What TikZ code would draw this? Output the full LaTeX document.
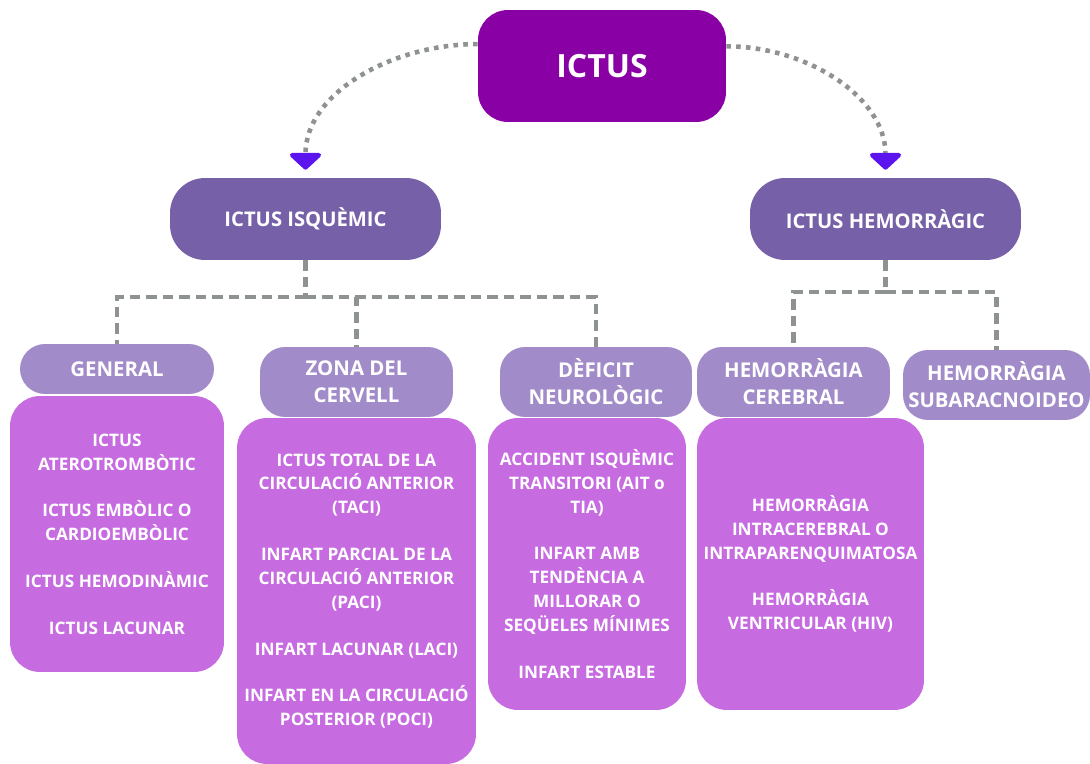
\documentclass[tikz,border=0pt]{standalone}
\usepackage{fontspec}
\setmainfont{Open Sans}
\usetikzlibrary{arrows.meta}
\definecolor{ictuscol}{RGB}{137,0,165}
\definecolor{typecol}{RGB}{118,96,168}
\definecolor{classcol}{RGB}{161,139,201}
\definecolor{listcol}{RGB}{199,107,225}
\definecolor{linecol}{RGB}{142,146,144}
\definecolor{tipcol}{RGB}{91,20,238}
\tikzset{
  box/.style={fill=#1,text=white,align=center,inner sep=2pt,font=\bfseries},
  elbow/.style={to path={-| (\tikztotarget)}}
}
\newcommand{\gap}{\\[13pt]}
\begin{document}
\begin{tikzpicture}[x=0.02cm,y=-0.02cm]
  \useasboundingbox (0,0) rectangle (1090,764);
  % top
  \node[box=ictuscol,rounded corners=0.6cm,minimum width=4.96cm,minimum height=2.24cm,
    font=\fontsize{18.2}{22}\selectfont\bfseries] (ictus) at (602,66) {ICTUS};
  \begin{scope}[every node/.style={box=typecol,rounded corners=0.7cm,minimum width=5.42cm,
      minimum height=1.64cm,font=\fontsize{11.5}{14}\selectfont\bfseries}]
  \node (isq) at (305.5,219) {ICTUS ISQUÈMIC};
  \node (hem) at (885.5,219) {ICTUS HEMORRÀGIC};
  \end{scope}
  \begin{scope}[every node/.style={box=classcol,rounded corners=0.5cm,minimum height=1.4cm,
      font=\fontsize{11.6}{15.3}\selectfont\bfseries}]
  \node[minimum width=3.88cm,minimum height=1cm] (gen) at (117,369) {GENERAL};
  \node[minimum width=3.86cm] (zona) at (356.5,382) {ZONA DEL\\CERVELL};
  \node[minimum width=3.84cm] (def) at (596,382) {DÈFICIT\\NEUROLÒGIC};
  \node[minimum width=3.86cm] (hcer) at (793.5,382) {HEMORRÀGIA\\CEREBRAL};
  \node[minimum width=3.74cm] (hsub) at (996.5,385) {HEMORRÀGIA\\SUBARACNOIDEO};
  \end{scope}
  \begin{scope}[every node/.style={box=listcol,rounded corners=0.6cm,
      font=\fontsize{9.8}{13.6}\selectfont\bfseries}]
  \node[minimum width=4.28cm,minimum height=5.52cm] (gena) at (117,534)
    {ICTUS\\ATEROTROMBÒTIC\gap ICTUS EMBÒLIC O\\CARDIOEMBÒLIC\gap
     ICTUS HEMODINÀMIC\gap ICTUS LACUNAR};
  \node[minimum width=4.78cm,minimum height=6.92cm] (zonaa) at (356.5,591)
    {ICTUS TOTAL DE LA\\CIRCULACIÓ ANTERIOR\\(TACI)\gap INFART PARCIAL DE LA\\
     CIRCULACIÓ ANTERIOR\\(PACI)\gap INFART LACUNAR (LACI)\gap
     INFART EN LA CIRCULACIÓ\\POSTERIOR (POCI)};
  \node[minimum width=3.96cm,minimum height=5.84cm] (defa) at (587,564)
    {ACCIDENT ISQUÈMIC\\TRANSITORI (AIT o\\TIA)\gap INFART AMB\\TENDÈNCIA A\\
     MILLORAR O\\SEQÜELES MÍNIMES\gap INFART ESTABLE};
  \node[minimum width=4.54cm,minimum height=5.84cm] (hcera) at (810.5,564)
    {HEMORRÀGIA\\INTRACEREBRAL O\\INTRAPARENQUIMATOSA\gap
     HEMORRÀGIA\\VENTRICULAR (HIV)};
  \end{scope}
  % connectors
  \coordinate (isqj) at (305.5,297);
  \coordinate (hemj) at (885.5,292);
  \begin{scope}[every edge/.style={draw=linecol,line width=2.6pt,dash pattern=on 2.6pt off 3pt,
      shorten >=0.16cm,-{Triangle[width=21pt,length=10pt,round,color=tipcol]}}]
  \path (ictus.170) edge[out=180,in=90] (isq.north);
  \path (ictus.9) edge[out=0,in=90] (hem.north);
  \end{scope}
  \begin{scope}[every edge/.style={draw=linecol,line width=2.3pt,dash pattern=on 6pt off 3.4pt}]
  \path (isq) edge (isqj);
  \path (isqj) edge[elbow] (gen.north);
  \path (isqj) edge[elbow] (zona.north);
  \path (isqj) edge[elbow] (def.north);
  \path (hem) edge (hemj);
  \path (hemj) edge[elbow] (hcer.north);
  \path (hemj) edge[elbow] (hsub.north);
  \end{scope}
\end{tikzpicture}
\end{document}
